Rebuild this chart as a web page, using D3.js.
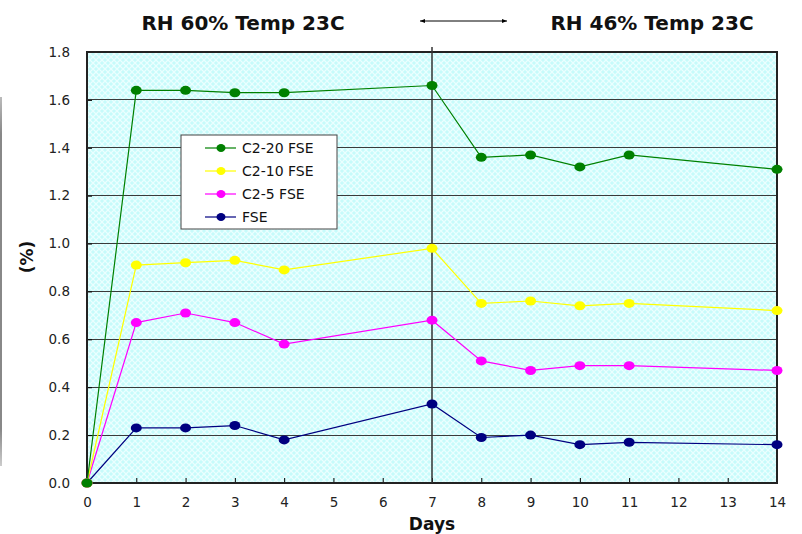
<!DOCTYPE html>
<html><head><meta charset="utf-8">
<script src="https://cdn.jsdelivr.net/npm/d3@7"></script>
<style>body{margin:0;background:#fff}svg{display:block;font-family:"DejaVu Sans",sans-serif}</style>
</head><body>
<svg id="c" width="802" height="534"></svg>
<script>
const days = [0,1,2,3,4,7,8,9,10,11,14];
const seriesNames = ["C2-20 FSE","C2-10 FSE","C2-5 FSE","FSE"];
const seriesColors = ["#008000","#ffff00","#ff00ff","#000080"];
const c2_20 = [0,1.64,1.64,1.63,1.63,1.66,1.36,1.37,1.32,1.37,1.31];
const c2_10 = [0,0.91,0.92,0.93,0.89,0.98,0.75,0.76,0.74,0.75,0.72];
const c2_5  = [0,0.67,0.71,0.67,0.58,0.68,0.51,0.47,0.49,0.49,0.47];
const fse   = [0,0.23,0.23,0.24,0.18,0.33,0.19,0.20,0.16,0.17,0.16];
const xTicks = [0,1,2,3,4,5,6,7,8,9,10,11,12,13,14];
const yTicks = [0,0.2,0.4,0.6,0.8,1.0,1.2,1.4,1.6,1.8];
const titleLeft = "RH 60% Temp 23C", titleRight = "RH 46% Temp 23C";
const xLabel = "Days", yLabel = "(%)";
const allSeries = [c2_20,c2_10,c2_5,fse];

const FONT = "'DejaVu Sans', sans-serif";
const svg = d3.select("#c");
const L=87,R=777,T=52,B=483;
const x = d3.scaleLinear().domain([0,14]).range([L,R]);
const y = d3.scaleLinear().domain([0,1.8]).range([B,T]);

const defs = svg.append("defs");
const pat = defs.append("pattern").attr("id","hatch").attr("patternUnits","userSpaceOnUse").attr("width",6).attr("height",6);
pat.append("rect").attr("width",6).attr("height",6).attr("fill","#c6fbfb");
pat.append("path").attr("d","M0,0L6,6M6,0L0,6").attr("stroke","#eaffff").attr("stroke-width",1.3);
const lg = defs.append("linearGradient").attr("id","gb").attr("x1",0).attr("x2",0).attr("y1",0).attr("y2",1);
lg.append("stop").attr("offset","0").attr("stop-color","#bbb");
lg.append("stop").attr("offset","0.1").attr("stop-color","#888");
lg.append("stop").attr("offset","0.9").attr("stop-color","#888");
lg.append("stop").attr("offset","1").attr("stop-color","#ccc");
svg.append("rect").attr("x",0).attr("y",97).attr("width",2).attr("height",369).attr("fill","url(#gb)");

svg.append("rect").attr("x",L).attr("y",T).attr("width",R-L).attr("height",B-T).attr("fill","url(#hatch)");

// grid
svg.append("g").selectAll("line").data(yTicks.slice(1,-1)).join("line")
  .attr("x1",L).attr("x2",R).attr("y1",d=>y(d)).attr("y2",d=>y(d))
  .attr("stroke","#3a3a3a").attr("stroke-width",1).attr("shape-rendering","crispEdges");

// axes
const gy = svg.append("g").attr("transform",`translate(${L},0)`)
  .call(d3.axisLeft(y).tickValues(yTicks).tickFormat(d3.format(".1f")).tickSizeInner(-5).tickSizeOuter(0).tickPadding(17));
const gx = svg.append("g").attr("transform",`translate(0,${B})`)
  .call(d3.axisBottom(x).tickValues(xTicks).tickFormat(d3.format("d")).tickSizeInner(-5).tickSizeOuter(0).tickPadding(14));
[gy,gx].forEach(g=>{g.select(".domain").remove();g.selectAll("line").attr("stroke","#000");
  g.selectAll("text").attr("font-size",13.5).attr("fill","#222").attr("font-family",FONT);});

// border
svg.append("rect").attr("x",L).attr("y",T).attr("width",R-L).attr("height",B-T).attr("fill","none").attr("stroke","#222").attr("stroke-width",1.5).attr("shape-rendering","crispEdges");

// vertical divider at day 7
svg.append("line").attr("x1",x(7)).attr("x2",x(7)).attr("y1",47).attr("y2",B).attr("stroke","#333").attr("stroke-width",1.5);

// series
const line = d3.line().x((d,i)=>x(days[i])).y(d=>y(d));
allSeries.slice().reverse().forEach((s,ri)=>{
  const i = allSeries.length-1-ri;
  svg.append("path").datum(s).attr("d",line).attr("fill","none").attr("stroke",seriesColors[i]).attr("stroke-width",1.2);
});
allSeries.slice().reverse().forEach((s,ri)=>{
  const i = allSeries.length-1-ri;
  svg.append("g").selectAll("ellipse").data(s).join("ellipse")
    .attr("cx",(d,k)=>x(days[k])).attr("cy",d=>y(d)).attr("rx",5.5).attr("ry",4.5).attr("fill",seriesColors[i]);
});

// legend
const lgG = svg.append("g");
lgG.append("rect").attr("x",181).attr("y",135).attr("width",156).attr("height",94).attr("fill","#fff").attr("stroke","#444").attr("stroke-width",1);
seriesNames.forEach((n,i)=>{
  const yy = 148 + i*23;
  lgG.append("line").attr("x1",205).attr("x2",236).attr("y1",yy).attr("y2",yy).attr("stroke",seriesColors[i]).attr("stroke-width",1.2);
  lgG.append("ellipse").attr("cx",221).attr("cy",yy).attr("rx",4.5).attr("ry",4).attr("fill",seriesColors[i]);
  lgG.append("text").attr("x",242).attr("y",yy+4.5).attr("font-size",14).attr("font-family",FONT).attr("fill","#111").text(n);
});

// titles
svg.append("text").attr("x",243).attr("y",30).attr("text-anchor","middle").attr("font-size",20).attr("font-weight","bold").attr("font-family",FONT).attr("fill","#111").text(titleLeft);
svg.append("text").attr("x",652).attr("y",30).attr("text-anchor","middle").attr("font-size",20).attr("font-weight","bold").attr("font-family",FONT).attr("fill","#111").text(titleRight);
// arrow
defs.append("marker").attr("id","ah").attr("viewBox","0 0 10 10").attr("refX",10).attr("refY",5).attr("markerWidth",7).attr("markerHeight",5).attr("orient","auto-start-reverse")
  .append("path").attr("d","M0,1L10,5L0,9Z").attr("fill","#000");
svg.append("line").attr("x1",420).attr("x2",507).attr("y1",21).attr("y2",21).attr("stroke","#000").attr("stroke-width",1)
  .attr("marker-start","url(#ah)").attr("marker-end","url(#ah)");

// axis labels
svg.append("text").attr("x",432).attr("y",530).attr("text-anchor","middle").attr("font-size",17).attr("font-weight","bold").attr("font-family",FONT).attr("fill","#111").text(xLabel);
svg.append("text").attr("transform","translate(33,257) rotate(-90)").attr("text-anchor","middle").attr("font-size",17).attr("font-weight","bold").attr("font-family",FONT).attr("fill","#111").text(yLabel);
</script>
</body></html>
